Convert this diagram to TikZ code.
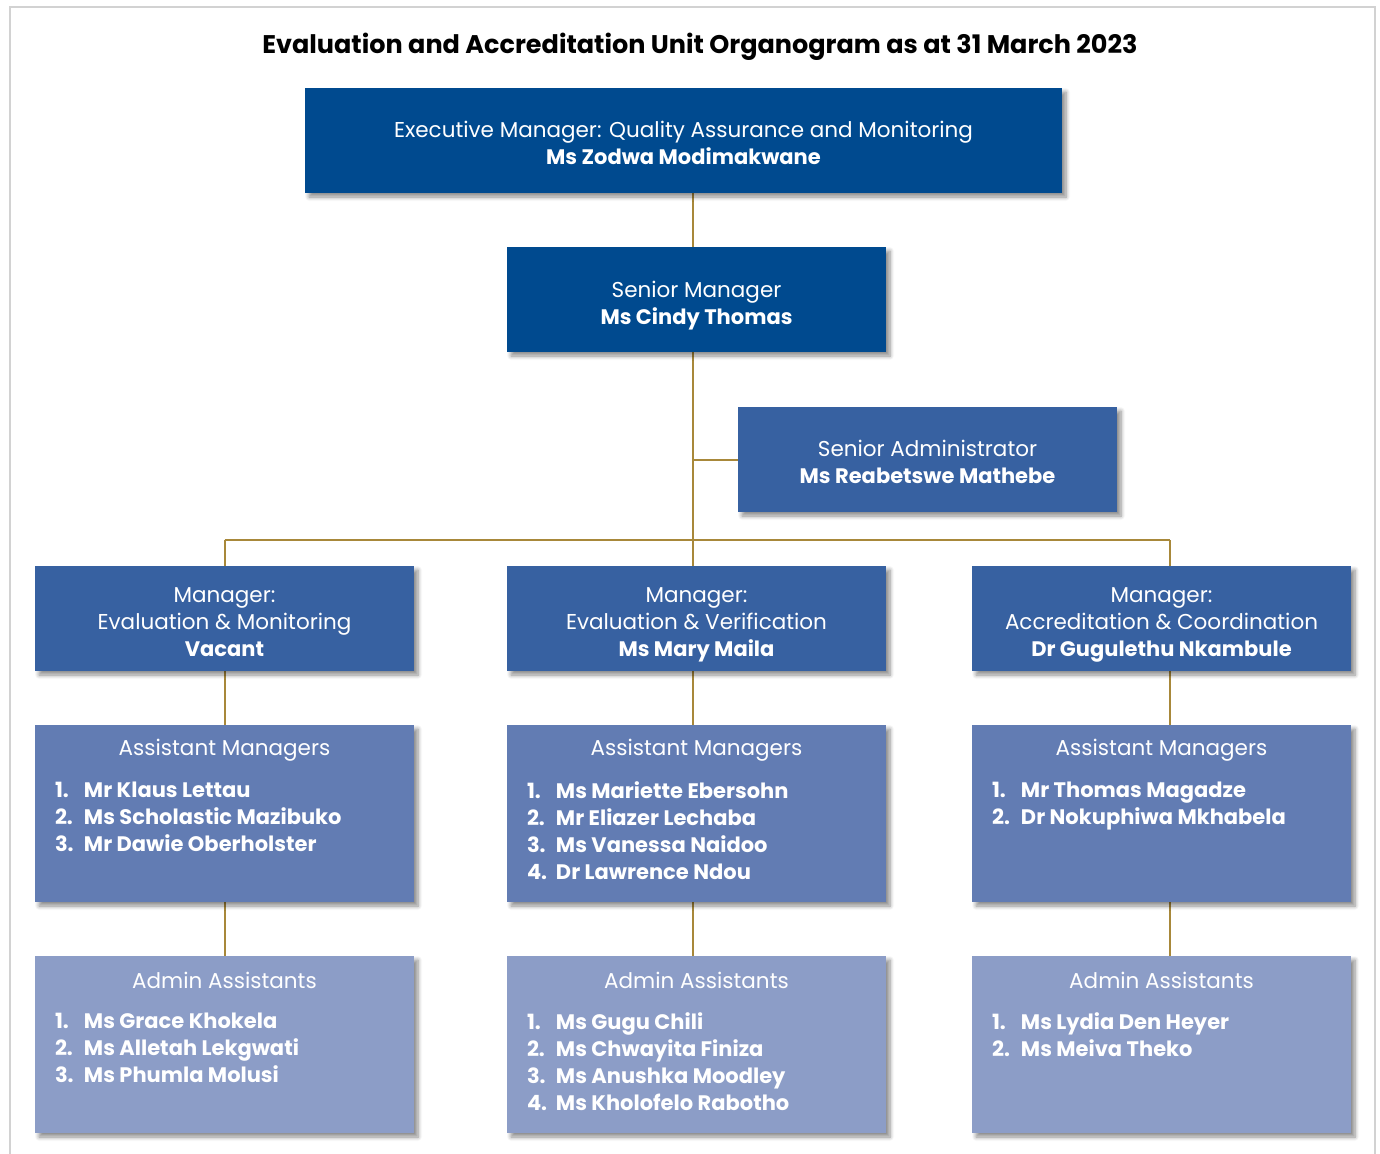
\documentclass[tikz,border=0pt]{standalone}
\usepackage{fontspec}
\setmainfont{Poppins}
\usetikzlibrary{positioning, calc, shadows.blur}
\pgfdeclarelayer{background}
\pgfsetlayers{background,main}
\definecolor{topblue}{RGB}{0,74,143}
\definecolor{midblue}{RGB}{55,97,161}
\definecolor{asstblue}{RGB}{98,124,179}
\definecolor{adminblue}{RGB}{140,157,199}
\definecolor{linkgold}{RGB}{168,136,58}
\tikzset{
	unit/.style={rectangle, minimum width=379pt, minimum height=105pt, inner sep=0pt, text=white, align=center,
		font=\fontsize{21.5}{27}\selectfont,
		blur shadow={shadow xshift=4pt, shadow yshift=-4pt, shadow blur radius=4pt, shadow blur steps=6, shadow opacity=45}},
	listbox/.style={unit, minimum height=177pt},
	boxhead/.style={anchor=center, text=white, font=\fontsize{21.5}{27}\selectfont, inner sep=0pt},
	boxlist/.style={anchor=north west, text=white, align=left, font=\fontsize{21}{27}\selectfont\bfseries, inner sep=0pt},
	link/.style={draw=linkgold, line width=2pt}
}
\newcommand{\itm}[1]{\makebox[29pt][l]{#1.}}
\newcommand{\nm}[1]{{\fontsize{21}{27}\selectfont\bfseries #1\vphantom{gy}}}
\begin{document}
\begin{tikzpicture}[x=1pt, y=-1pt]
	\useasboundingbox (0,0) rectangle (1380,1153);
	\draw[gray!35, line width=1.2pt] (10,1170) -- (10,7) -- (1375,7) -- (1375,1170);

	% --- Title ---
	\node[font=\fontsize{25.5}{30}\selectfont\bfseries] (title) at (700,47) {Evaluation and Accreditation Unit Organogram as at 31 March 2023};

	% --- Top levels ---
	\node[unit, fill=topblue, minimum width=757pt] (exec) at (683.5,140.5)
		{\rule{0pt}{26pt}Executive Manager: Quality Assurance and Monitoring\\\nm{Ms Zodwa Modimakwane}};
	\node[unit, fill=topblue] (senior) at (696.5,299.5) {\rule{0pt}{28pt}Senior Manager\\\nm{Ms Cindy Thomas}};
	\node[unit, fill=midblue] (sadmin) at (927.5,459.5) {\rule{0pt}{26pt}Senior Administrator\\\nm{Ms Reabetswe Mathebe}};

	% --- Managers ---
	\node[unit, fill=midblue] (mgrmon) at (224.5,618.5) {\rule{0pt}{27pt}Manager:\\Evaluation \& Monitoring\\\nm{Vacant}};
	\node[unit, fill=midblue] (mgrver) at (696.5,618.5) {\rule{0pt}{27pt}Manager:\\Evaluation \& Verification\\\nm{Ms Mary Maila}};
	\node[unit, fill=midblue] (mgracc) at (1161.5,618.5) {\rule{0pt}{27pt}Manager:\\Accreditation \& Coordination\\\nm{Dr Gugulethu Nkambule}};

	% --- Assistant managers ---
	\node[listbox, fill=asstblue] (asstmon) at (224.5,813.5) {};
	\node[listbox, fill=asstblue] (asstver) at (696.5,813.5) {};
	\node[listbox, fill=asstblue] (asstacc) at (1161.5,813.5) {};
	\node[boxhead] (asstmonhead) at ($(asstmon.north)+(0,25)$) {Assistant Managers};
	\node[boxhead] (asstverhead) at ($(asstver.north)+(0,25)$) {Assistant Managers};
	\node[boxhead] (asstacchead) at ($(asstacc.north)+(0,25)$) {Assistant Managers};
	\node[boxlist] (asstmonlist) at ($(asstmon.north west)+(20,57)$)
		{\itm1Mr Klaus Lettau\\\itm2Ms Scholastic Mazibuko\\\itm3Mr Dawie Oberholster};
	\node[boxlist] (asstverlist) at ($(asstver.north west)+(20,57)$)
		{\itm1Ms Mariette Ebersohn\\\itm2Mr Eliazer Lechaba\\\itm3Ms Vanessa Naidoo\\\itm4Dr Lawrence Ndou};
	\node[boxlist] (asstacclist) at ($(asstacc.north west)+(20,57)$)
		{\itm1Mr Thomas Magadze\\\itm2Dr Nokuphiwa Mkhabela};

	% --- Admin assistants ---
	\node[listbox, fill=adminblue] (admmon) at (224.5,1044.5) {};
	\node[listbox, fill=adminblue] (admver) at (696.5,1044.5) {};
	\node[listbox, fill=adminblue] (admacc) at (1161.5,1044.5) {};
	\node[boxhead] (admmonhead) at ($(admmon.north)+(0,25)$) {Admin Assistants};
	\node[boxhead] (admverhead) at ($(admver.north)+(0,25)$) {Admin Assistants};
	\node[boxhead] (admacchead) at ($(admacc.north)+(0,25)$) {Admin Assistants};
	\node[boxlist] (admmonlist) at ($(admmon.north west)+(20,57)$)
		{\itm1Ms Grace Khokela\\\itm2Ms Alletah Lekgwati\\\itm3Ms Phumla Molusi};
	\node[boxlist] (admverlist) at ($(admver.north west)+(20,57)$)
		{\itm1Ms Gugu Chili\\\itm2Ms Chwayita Finiza\\\itm3Ms Anushka Moodley\\\itm4Ms Kholofelo Rabotho};
	\node[boxlist] (admacclist) at ($(admacc.north west)+(20,57)$)
		{\itm1Ms Lydia Den Heyer\\\itm2Ms Meiva Theko};

	% --- Connectors ---
	\coordinate (bus) at (0,540);
	\coordinate (spine) at (693,0);
	\coordinate (rightdrop) at (1170,0);
	\begin{pgfonlayer}{background}
	\draw[link] (spine |- exec.south) -- (spine |- senior.north);
	\draw[link] (spine |- senior.south) -- (spine |- mgrver.north);
	\draw[link] (spine |- sadmin.west) -- (sadmin.west);
	\draw[link] (mgrmon.north |- bus) -- (rightdrop |- bus);
	\draw[link] (mgrmon.north |- bus) -- (mgrmon.north);
	\draw[link] (rightdrop |- bus) -- (rightdrop |- mgracc.north);
	\draw[link] (mgrmon.south) -- (asstmon.north);
	\draw[link] (spine |- mgrver.south) -- (spine |- asstver.north);
	\draw[link] (rightdrop |- mgracc.south) -- (rightdrop |- asstacc.north);
	\draw[link] (asstmon.south) -- (admmon.north);
	\draw[link] (spine |- asstver.south) -- (spine |- admver.north);
	\draw[link] (rightdrop |- asstacc.south) -- (rightdrop |- admacc.north);
	\end{pgfonlayer}
\end{tikzpicture}
\end{document}
